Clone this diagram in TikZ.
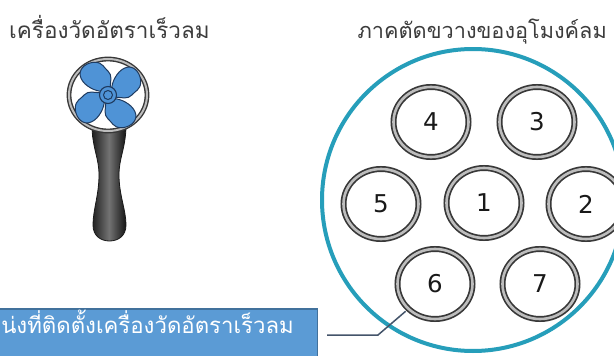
\documentclass[tikz,border=0pt]{standalone}
\usepackage{fontspec}
\newfontfamily\thaifont[Script=Thai]{Loma}
\newfontfamily\numfont{DejaVu Sans}
\usetikzlibrary{shapes.geometric,calc}

\definecolor{txtgray}{HTML}{3C3C3C}
\definecolor{tunnelc}{RGB}{38,158,186}
\definecolor{ringdark}{HTML}{383838}
\definecolor{ringlight}{HTML}{BDBDBD}
\definecolor{boxblue}{HTML}{5B9BD5}
\definecolor{boxedge}{HTML}{41719C}
\definecolor{leadc}{HTML}{44546A}
\definecolor{fanblue}{HTML}{4F93D6}
\definecolor{fanline}{HTML}{1E3A5F}

\tikzset{
  heading/.style={font=\thaifont\fontsize{22.5}{26}\selectfont, text=txtgray, inner sep=0pt},
  calltext/.style={font=\thaifont\fontsize{22.2}{25}\selectfont, text=white, inner sep=0pt},
  tube/.style={ellipse, draw=ringdark, line width=1.7pt, double=ringlight,
    double distance=2.6pt, fill=white, minimum width=75pt, minimum height=70pt,
    inner sep=0pt, font=\numfont\fontsize{24.5}{28}\selectfont, text=black!90},
  tunnel/.style={circle, draw=tunnelc, line width=4pt, minimum size=302pt, inner sep=0pt},
  callout/.style={draw=boxedge, fill=boxblue, line width=1.5pt, inner sep=0pt},
  leader/.style={draw=leadc, line width=1.5pt},
  anemoring/.style={ellipse, draw=ringdark, line width=1.4pt, double=ringlight,
    double distance=2pt, minimum width=78pt, minimum height=72pt, inner sep=0pt},
  blade/.style={fill=fanblue, draw=fanline, line width=1.1pt, line join=round},
  grip/.style={draw=black!90, line width=0.8pt, left color=black!88,
    right color=black!92, middle color=black!55},
}

\begin{document}
\begin{tikzpicture}[x=1pt, y=-1pt]
  \useasboundingbox (0,0) rectangle (614,356);
  \clip (0,0) rectangle (614,356);
  \fill[white] (0,0) rectangle (614,356);

  % headings
  \node[heading, anchor=base west] (hLeft) at (9,38) {เครื่องวัดอัตราเร็วลม};
  \node[heading, anchor=base east, font=\thaifont\fontsize{21.7}{26}\selectfont] (hRight) at (607,38) {ภาคตัดขวางของอุโมงค์ลม};

  % anemometer: handle with a flared collar under the ring
  \path[grip] (92,128) -- (126,128)
    .. controls (125,150) and (119,158) .. (119,175)
    .. controls (119,195) and (126,210) .. (126,225)
    .. controls (126,236) and (118,241) .. (109.5,241)
    .. controls (101,241) and (93,236) .. (93,225)
    .. controls (93,210) and (99,195) .. (99,175)
    .. controls (99,158) and (93,150) .. (92,128) -- cycle;

  % anemometer: ring and fan
  \node[anemoring, fill=white] (anemo) at (108,95) {};
  \foreach \ang in {25,115,205,295}{
    \begin{scope}[shift={(anemo.center)}, rotate=\ang, scale=1.13]
      \path[blade, line width=1pt] (6,-5) .. controls (10,-11) and (19,-17) .. (26,-15)
        .. controls (33,-13) and (34,-4) .. (31,2)
        .. controls (28,8) and (23,7) .. (19,9)
        .. controls (14,11) and (10,7) .. (6,5) -- cycle;
    \end{scope}
  }
  \draw[blade] (anemo.center) circle[radius=8.5];
  \draw[fanline, line width=1pt] (anemo.center) circle[radius=4.5];

  % wind tunnel cross-section
  \node[tunnel] (tun) at (473,200) {};
  \node[tube] (r4) at (431,122) {4};
  \node[tube] (r3) at (537,122) {3};
  \node[tube] (r5) at (381,204) {5};
  \node[tube] (r1) at (484,203) {1};
  \node[tube] (r2) at (586,204) {2};
  \node[tube] (r6) at (435,284) {6};
  \node[tube] (r7) at (540,284) {7};

  % callout box
  \node[callout, anchor=north east, minimum width=340pt, minimum height=70pt] (box) at (318,308) {};
  \node[calltext, anchor=base east] (boxtext) at (294,333) {น่งที่ติดตั้งเครื่องวัดอัตราเร็วลม};

  % leader line from the box to ring 6
  \coordinate (bend) at (378,335);
  \draw[leader] ($(box.east |- bend)+(9,0)$) -- (bend) -- ($(r6.south west)!3pt!(bend)$);
\end{tikzpicture}
\end{document}
